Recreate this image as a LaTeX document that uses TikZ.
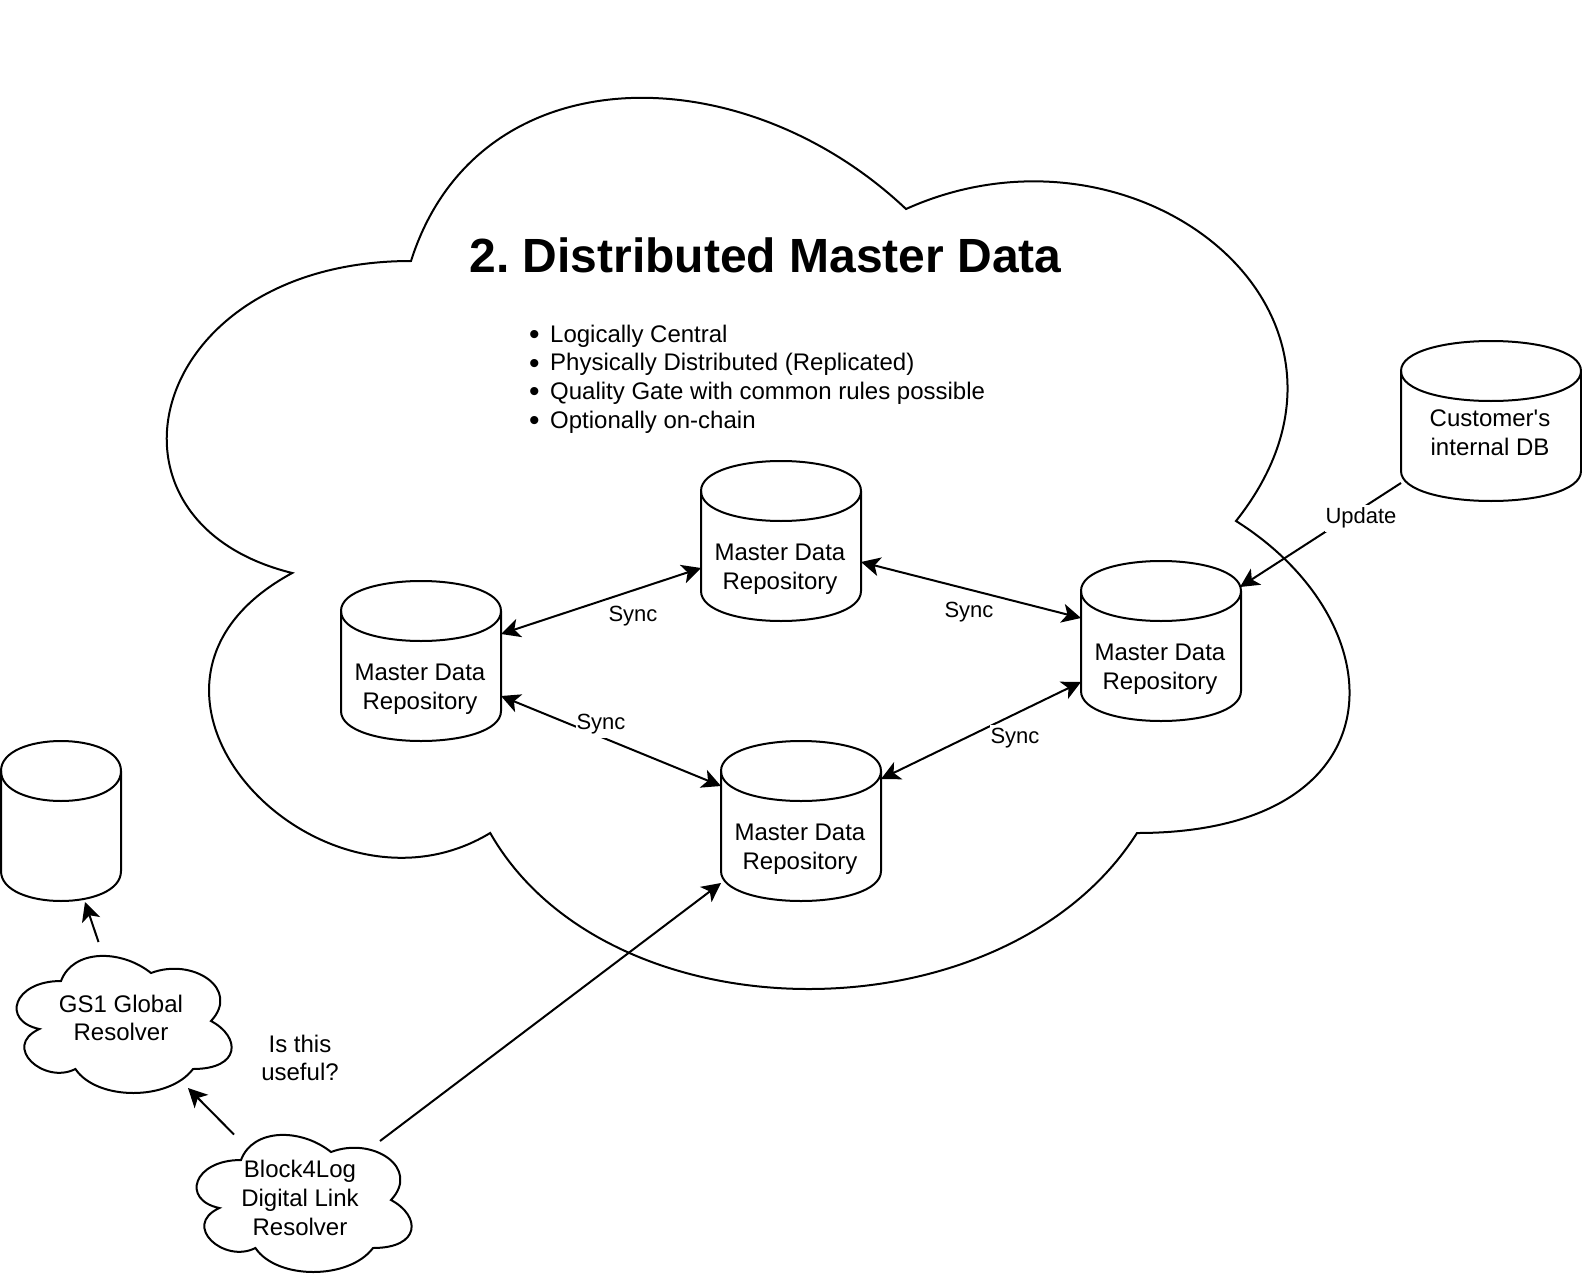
\documentclass[tikz,border=0pt]{standalone}
\usepackage{fontspec}
\setmainfont[Ligatures=TeXOff]{Liberation Sans}
\usetikzlibrary{arrows.meta,calc}
\newcommand\listdot{\makebox[21pt][l]{\raisebox{-2.2pt}{\fontsize{30}{30}\selectfont •}}}
\tikzset{
  outline/.style={draw=black,line width=2pt,fill=white,line join=miter},
  anchorbox/.style={inner sep=0pt,outer sep=0pt,rectangle,minimum width=#1},
  shapetext/.style={align=center,inner sep=0pt,font=\fontsize{24}{28.8}\selectfont},
  edgelabel/.style={fill=white,inner sep=1pt,minimum height=27pt,font=\fontsize{22}{26}\selectfont},
  blocktip/.tip={Stealth[length=19pt,width=19pt,inset=5pt]},
  oneway/.style={draw=black,line width=2pt,-blocktip},
  twoway/.style={draw=black,line width=2pt,blocktip-blocktip}
}
% cylinder: name, x, y, w, h, text dx, text dy, text
\newcommand\cylnode[8]{%
  \begin{scope}[shift={(#2,#3)}]
    \path[outline] (0,30) .. controls (0,-10) and (#4,-10) .. (#4,30)
      -- (#4,#5-30) .. controls (#4,#5+10) and (0,#5+10) .. (0,#5-30) -- cycle;
    \path[outline,fill=none] (0,30) .. controls (0,70) and (#4,70) .. (#4,30);
    \node[anchorbox=#4pt,minimum height=#5pt] (#1) at (#4/2,#5/2) {};
    \node[shapetext] (#1-text) at (#4/2+#6,#5/2+#7) {#8};
  \end{scope}}
% cloud: name, x, y, w, h, text options, text
\newcommand\cloudnode[7]{%
  \begin{scope}[shift={(#2,#3)},x=#4pt,y=-#5pt]
    \path[outline] (.25,.25) .. controls (.05,.25) and (0,.5) .. (.16,.55)
      .. controls (0,.66) and (.18,.9) .. (.31,.8)
      .. controls (.4,1) and (.7,1) .. (.8,.8)
      .. controls (1,.8) and (1,.6) .. (.875,.5)
      .. controls (1,.3) and (.8,.1) .. (.625,.2)
      .. controls (.5,.05) and (.3,.05) .. (.25,.25) -- cycle;
    \node[anchorbox=#4pt,minimum height=#5pt] (#1) at (.5,.5) {};
    \node[shapetext,#6] (#1-text) at (.5,.5) {#7};
  \end{scope}}
\begin{document}
\frenchspacing
\begin{tikzpicture}[x=1pt,y=-1pt]
\path[fill=white] (0,0) rectangle (1582,1284);
\useasboundingbox (0,0) rectangle (1582,1284);

\cloudnode{main}{81}{1}{1320}{1040}{}{}
\node[font=\fontsize{48}{56}\selectfont\bfseries,inner sep=0pt] (title) at (765.5,255) {2. Distributed Master Data};
\node[shapetext,align=left,anchor=west] (bullets) at (529,379) {%
  \listdot Logically Central\\
  \listdot Physically Distributed (Replicated)\\
  \listdot Quality Gate with common rules possible\\
  \listdot Optionally on-chain};

\cylnode{top}{701}{461}{160}{160}{-1}{28}{Master Data\\Repository}
\cylnode{left}{341}{581}{160}{160}{-1}{28}{Master Data\\Repository}
\cylnode{bottom}{721}{741}{160}{160}{-1}{28}{Master Data\\Repository}
\cylnode{right}{1081}{561}{160}{160}{-1}{28}{Master Data\\Repository}
\cylnode{customer}{1401}{341}{180}{160}{-1}{11.5}{Customer's\\internal DB}
\cylnode{extra}{1}{741}{120}{160}{0}{0}{}

\cloudnode{gs}{1}{941}{240}{160}{yshift=3pt}{GS1 Global\\Resolver}
\cloudnode{resolver}{181}{1120}{240}{160}{yshift=2pt,xshift=-1pt}{Block4Log\\Digital Link\\Resolver}
\node[shapetext] (question) at (300,1058) {Is this\\useful?};

\coordinate (topL) at ([shift={(0,107)}]top.north west);
\coordinate (topR) at ([shift={(160,101)}]top.north west);
\coordinate (leftR1) at ([shift={(160,53)}]left.north west);
\coordinate (leftR2) at ([shift={(160,115)}]left.north west);
\coordinate (bottomL1) at ([shift={(0,45)}]bottom.north west);
\coordinate (bottomR1) at ([shift={(160,38)}]bottom.north west);
\coordinate (bottomL2) at ([shift={(0,142)}]bottom.north west);
\coordinate (rightL1) at ([shift={(0,57)}]right.north west);
\coordinate (rightL2) at ([shift={(0,121)}]right.north west);
\coordinate (rightTR) at ([shift={(159,26)}]right.north west);
\coordinate (custL) at ([shift={(0,142)}]customer.north west);
\coordinate (extraB) at ([shift={(84,161)}]extra.north west);
\coordinate (gsT) at ([shift={(97.5,1)}]gs.north west);
\coordinate (gsB) at ([shift={(187,147)}]gs.north west);
\coordinate (resA) at ([shift={(53,14.5)}]resolver.north west);
\coordinate (resB) at ([shift={(199,21)}]resolver.north west);

\draw[twoway] (leftR1) -- (topL);
\draw[twoway] (topR) -- (rightL1);
\draw[twoway] (leftR2) -- (bottomL1);
\draw[twoway] (bottomR1) -- (rightL2);
\draw[oneway] (custL) -- (rightTR);
\draw[oneway] (gsT) -- (extraB);
\draw[oneway] (resA) -- (gsB);
\draw[oneway] (resB) -- (bottomL2);

\node[edgelabel] (sync1) at (633,616.5) {Sync};
\node[edgelabel] (sync2) at (969,612.5) {Sync};
\node[edgelabel] (sync3) at (601,724.5) {Sync};
\node[edgelabel] (sync4) at (1015,738) {Sync};
\node[edgelabel] (update) at (1361,518) {Update};
\end{tikzpicture}
\end{document}
